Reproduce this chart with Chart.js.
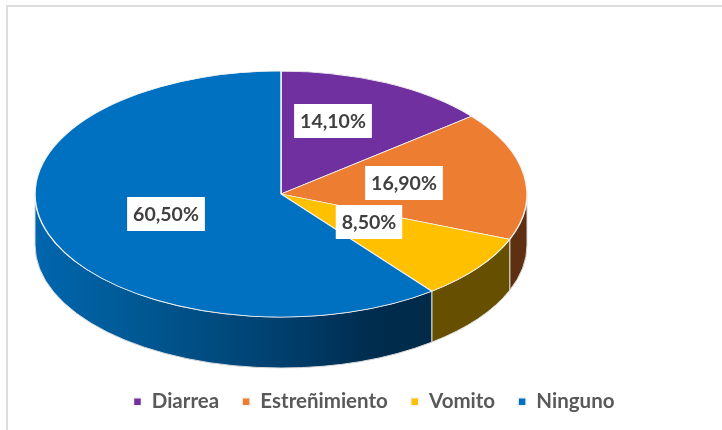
<!DOCTYPE html>
<html>
<head>
<meta charset="utf-8">
<title>Síntomas</title>
<style>
  html, body { margin: 0; padding: 0; background: #fff; }
  canvas { display: block; }
</style>
<script src="https://cdn.jsdelivr.net/npm/chart.js@4/dist/chart.umd.min.js"></script>
</head>
<body>
<canvas id="pie3d" width="722" height="430"></canvas>
<script>
// datos
const categorias = ['Diarrea', 'Estreñimiento', 'Vomito', 'Ninguno'];
const porcentajes = [14.1, 16.9, 8.5, 60.5];

const coloresTapa = ['#7030A0', '#ED7D31', '#FFC000', '#0070C0'];
const coloresLado = ['#3A1854', '#5F2F12', '#665000', null];

// geometria del pastel "3D"
const centroX = 281, centroY = 194, radioX = 246, radioY = 123, grosor = 51;
// caja de cada etiqueta respecto al centro del pastel
const desplazamientos = [[52, -73], [123, -11], [88, 28], [-115, 20]];

function textoPct(v) {
    return v.toFixed(2).replace('.', ',') + '%';
}

const pie3d = {
    id: 'pie3d',
    beforeDraw(chart) {
        // marco gris del grafico, solo arriba y a la izquierda
        const ctx = chart.ctx;
        ctx.save();
        ctx.strokeStyle = '#DDDDDD';
        ctx.lineWidth = 2;
        ctx.beginPath();
        ctx.moveTo(7, chart.height);
        ctx.lineTo(7, 6);
        ctx.lineTo(chart.width, 6);
        ctx.stroke();
        ctx.restore();
    },
    afterLayout(chart) {
        // subir la leyenda
        chart.legend.top -= 8;
        chart.legend.bottom -= 8;
    },
    beforeDatasetsDraw(chart) {
        const ctx = chart.ctx;
        const arcos = chart.getDatasetMeta(0).data;

        // gradiente del lado azul
        const grad = ctx.createLinearGradient(centroX - radioX, 0, 432, 0);
        grad.addColorStop(0, '#0066AE');
        grad.addColorStop(0.3, '#00568F');
        grad.addColorStop(0.62, '#003F6E');
        grad.addColorStop(0.85, '#002C4E');
        grad.addColorStop(1, '#002A47');

        arcos.forEach((arco, i) => {
            const a0 = Math.max(arco.startAngle, 0);
            const a1 = Math.min(arco.endAngle, Math.PI);
            if (a1 <= a0) return;
            ctx.save();
            ctx.beginPath();
            ctx.ellipse(centroX, centroY, radioX, radioY, 0, a0, a1);
            ctx.ellipse(centroX, centroY + grosor, radioX, radioY, 0, a1, a0, true);
            ctx.closePath();
            ctx.fillStyle = coloresLado[i] || grad;
            ctx.fill();
            ctx.strokeStyle = '#DADADA';
            ctx.lineWidth = 1;
            ctx.stroke();
            ctx.restore();
        });

        // la tapa se dibuja aplastada
        const a = arcos[0];
        ctx.save();
        ctx.translate(centroX, centroY);
        ctx.scale(1, radioY / radioX);
        ctx.translate(-a.x, -a.y);
    },
    afterDatasetsDraw(chart) {
        const ctx = chart.ctx;
        ctx.restore();

        ctx.save();
        ctx.font = 'bold 19.5px Lato';
        ctx.textAlign = 'center';
        ctx.textBaseline = 'middle';
        porcentajes.forEach((v, i) => {
            const x = centroX + desplazamientos[i][0];
            const y = centroY + desplazamientos[i][1];
            const txt = textoPct(v);
            const w = ctx.measureText(txt).width + 12;
            ctx.fillStyle = '#FFFFFF';
            ctx.fillRect(x - w / 2, y - 17, w, 34);
            ctx.fillStyle = '#404040';
            ctx.fillText(txt, x, y + 1);
        });
        ctx.restore();
    }
};

new Chart(document.getElementById('pie3d'), {
    type: 'pie',
    data: {
        labels: categorias,
        datasets: [{
            data: porcentajes,
            backgroundColor: coloresTapa,
            borderColor: '#F4F4F4',
            borderWidth: 1.5,
            radius: radioX,
            clip: false
        }]
    },
    options: {
        responsive: false,
        animation: false,
        layout: { padding: { left: 26 } },
        plugins: {
            tooltip: { enabled: false },
            legend: {
                position: 'bottom',
                labels: {
                    color: '#595959',
                    boxWidth: 8,
                    boxHeight: 8,
                    padding: 23,
                    font: { family: 'Lato', size: 20.5, weight: 'bold' }
                }
            }
        }
    },
    plugins: [pie3d]
});
</script>
</body>
</html>
